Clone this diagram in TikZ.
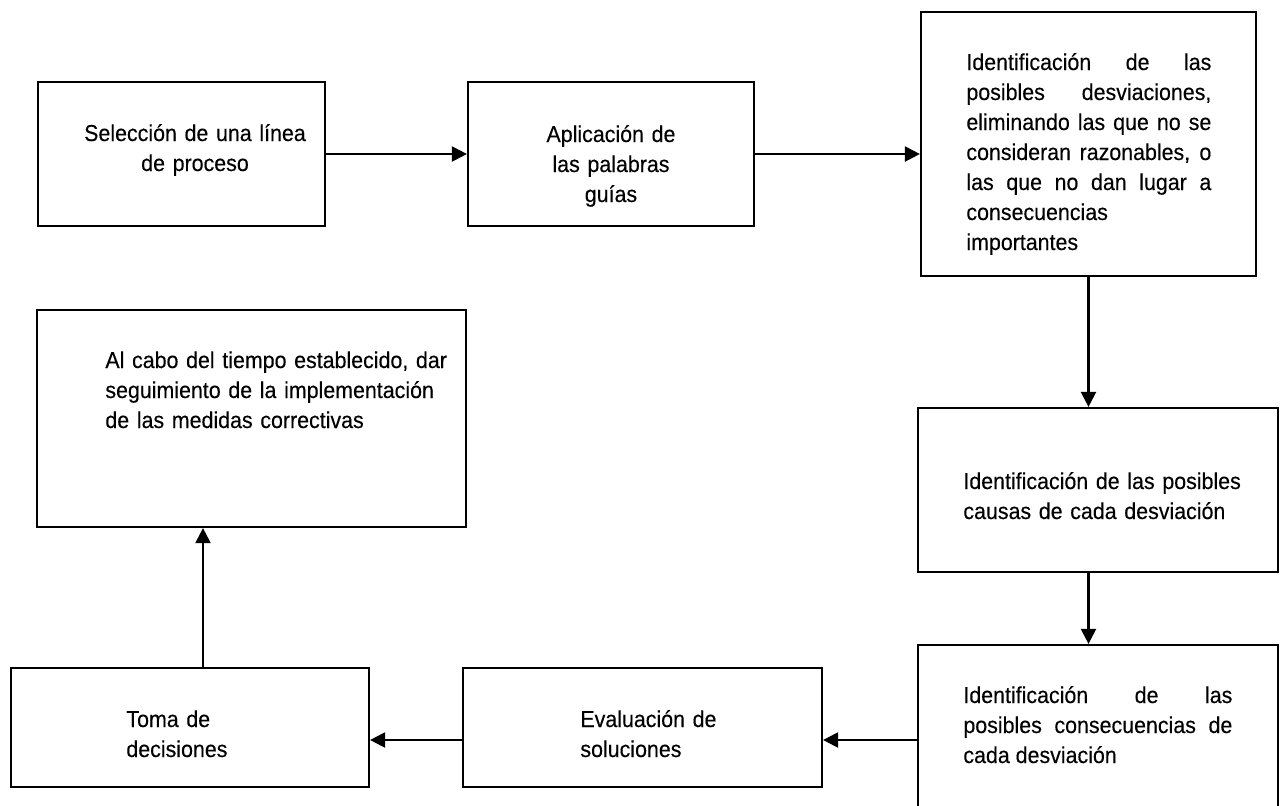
\documentclass[tikz,border=0pt]{standalone}
\usepackage{fontspec}
\setmainfont{Liberation Sans}[FakeStretch=0.93, FakeBold=0.25]
\usetikzlibrary{arrows.meta}
\newcommand{\boxfont}{\fontsize{11.5}{15}\selectfont}
\tolerance=10000
\hyphenpenalty=10000

\begin{document}
\begin{tikzpicture}[
    x=0.5pt, y=-0.5pt,
    box/.style={draw, line width=1.1pt, inner sep=0pt},
    txt/.style={font=\boxfont, inner sep=0pt, anchor=base west, align=left},
    ctxt/.style={font=\boxfont, inner sep=0pt, anchor=base, align=center, text width=135pt},
    jtxt/.style={font=\boxfont, inner sep=0pt, anchor=base west, align=justify},
    flow/.style={line width=1.1pt, -{Triangle[length=7.5pt, width=7.5pt]}}
]
\useasboundingbox (0,0) rectangle (1282,805);
\clip (0,0) rectangle (1282,805);

% Top row
\node[box, minimum width=143.5pt, minimum height=72pt] (sel) at (181.5,154) {};
\node[ctxt] (tsel) at (195,141) {Selección de una línea\\de proceso};
\node[box, minimum width=143pt, minimum height=72pt] (apl) at (611,154) {};
\node[ctxt] (tapl) at (611,142) {Aplicación de\\las palabras\\guías};
\node[box, minimum width=167.5pt, minimum height=132pt] (dev) at (1088.5,144) {};
\node[jtxt, text width=122.5pt] (tdev) at (966,70) {Identificación de las\linebreak
  posibles desviaciones,\linebreak eliminando las que no se\linebreak
  consideran razonables, o\linebreak las que no dan lugar a\linebreak
  consecuencias\newline importantes};

% Right column
\node[box, minimum width=180pt, minimum height=82pt] (cau) at (1098,490) {};
\node[txt, text width=150pt] (tcau) at (963,489) {Identificación de las posibles\\causas de cada desviación};
\node[box, minimum width=180pt, minimum height=100pt] (con) at (1098,745) {};
\node[jtxt, text width=134.5pt] (tcon) at (963,703) {Identificación de las\linebreak
  posibles consecuencias de\linebreak cada desviación};

% Bottom row and follow-up
\node[box, minimum width=179.5pt, minimum height=59.5pt] (eva) at (642.5,727.5) {};
\node[txt, text width=100pt] (teva) at (580,727) {Evaluación de\\soluciones};
\node[box, minimum width=179pt, minimum height=59.5pt] (tom) at (190,727.5) {};
\node[txt, text width=100pt] (ttom) at (126,727) {Toma de\\decisiones};
\node[box, minimum width=214.5pt, minimum height=108.5pt] (seg) at (251.5,418.5) {};
\node[txt, text width=180pt] (tseg) at (105,368) {Al cabo del tiempo establecido, dar\\seguimiento de la implementación\\de las medidas correctivas};

% Arrows
\coordinate (fila) at (0,740);
\coordinate (sube) at (203,0);
\draw[flow] (sel.east) -- (apl.west);
\draw[flow] (apl.east) -- (apl.east -| dev.west);
\draw[flow] (dev.south) -- (dev.south |- cau.north);
\draw[flow] (dev.south |- cau.south) -- (dev.south |- con.north);
\draw[flow] (con.west |- fila) -- (eva.east |- fila);
\draw[flow] (eva.west |- fila) -- (tom.east |- fila);
\draw[flow] (tom.north -| sube) -- (seg.south -| sube);
\end{tikzpicture}
\end{document}
